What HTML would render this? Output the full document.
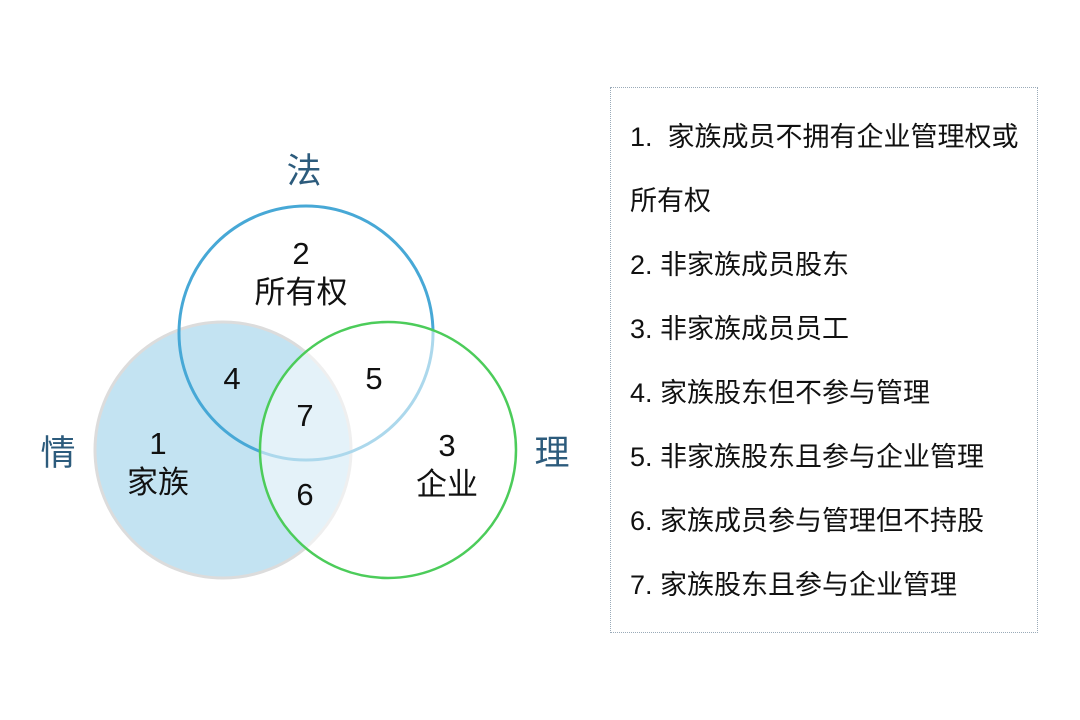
<!DOCTYPE html>
<html><head><meta charset="utf-8"><style>
body{margin:0;width:1080px;height:720px;background:#fff;overflow:hidden;position:relative;font-family:"Liberation Sans","Noto Sans CJK SC",sans-serif;}
.box{position:absolute;left:610px;top:87px;width:426px;height:544px;border:1.5px dotted #9aaab8;}
.item{position:absolute;left:630px;font-size:27px;color:#111;line-height:30px;white-space:nowrap;}
</style></head><body>
<svg width="1080" height="720" style="position:absolute;left:0;top:0" font-family="Liberation Sans, Noto Sans CJK SC, sans-serif">
<circle cx="223" cy="450" r="128" fill="#c3e3f2" stroke="#dcdcdc" stroke-width="3"/>
<circle cx="306" cy="333" r="127" fill="none" stroke="#47a8d6" stroke-width="3"/>
<circle cx="388" cy="450" r="128" fill="#fff" fill-opacity="0.55" stroke="#4ccc5a" stroke-width="2.5"/>
<g font-size="35" fill="#2c5b7c" text-anchor="middle">
<text x="304" y="183">法</text>
<text x="58" y="465">情</text>
<text x="552" y="465">理</text>
</g>
<g font-size="31" fill="#111" text-anchor="middle">
<text x="301" y="264">2</text>
<text x="301" y="303">所有权</text>
<text x="232" y="389">4</text>
<text x="374" y="389">5</text>
<text x="305" y="426">7</text>
<text x="158" y="454">1</text>
<text x="158" y="493">家族</text>
<text x="447" y="456">3</text>
<text x="447" y="495">企业</text>
<text x="305" y="505">6</text>
</g>
</svg>
<div class="box"></div>
<div class="item" style="top:122px">1.&nbsp; 家族成员不拥有企业管理权或</div>
<div class="item" style="top:186px">所有权</div>
<div class="item" style="top:250px">2. 非家族成员股东</div>
<div class="item" style="top:314px">3. 非家族成员员工</div>
<div class="item" style="top:378px">4. 家族股东但不参与管理</div>
<div class="item" style="top:442px">5. 非家族股东且参与企业管理</div>
<div class="item" style="top:506px">6. 家族成员参与管理但不持股</div>
<div class="item" style="top:570px">7. 家族股东且参与企业管理</div>
</body></html>
